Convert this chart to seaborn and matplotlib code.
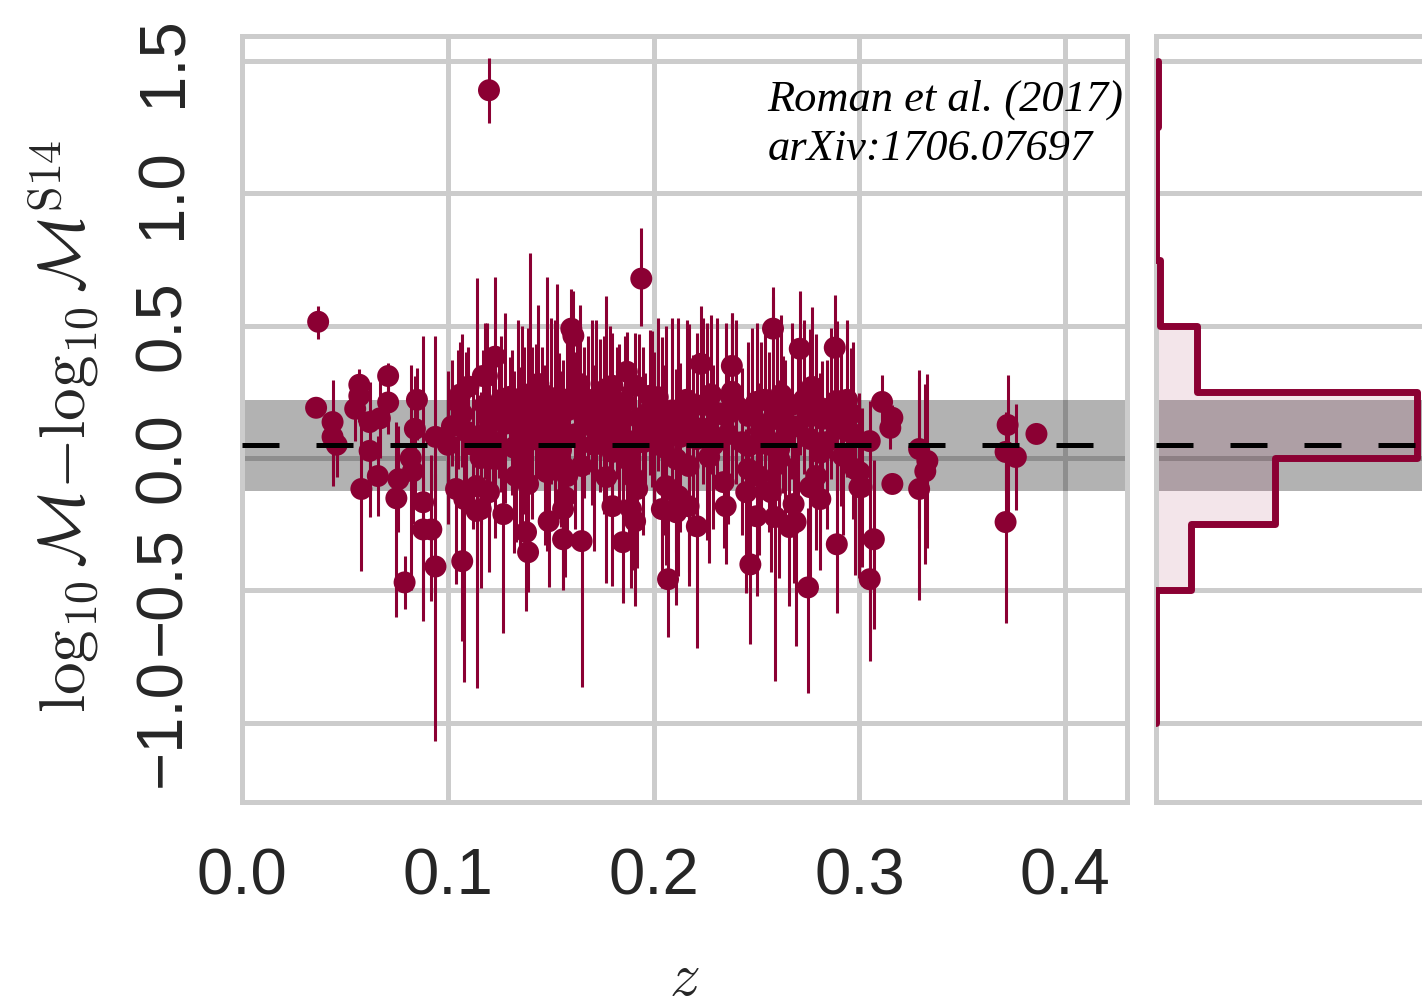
import numpy as np
import matplotlib
matplotlib.use("Agg")
import matplotlib.pyplot as plt
import seaborn as sns

# ---------------- data ----------------
z = [
    0.037, 0.036, 0.044, 0.044, 0.046, 0.057, 0.057, 0.055, 0.062, 0.062,
    0.058, 0.066, 0.071, 0.071, 0.082, 0.075, 0.076, 0.083, 0.085, 0.079,
    0.088, 0.088, 0.092, 0.094, 0.094, 0.102, 0.107, 0.106, 0.110, 0.117,
    0.104, 0.108, 0.107, 0.114, 0.114, 0.116, 0.120, 0.123, 0.119, 0.130,
    0.125, 0.131, 0.120, 0.119, 0.136, 0.146, 0.153, 0.154, 0.144, 0.148,
    0.140, 0.172, 0.177, 0.180, 0.187, 0.191, 0.198, 0.204, 0.206, 0.196,
    0.170, 0.182, 0.177, 0.185, 0.123, 0.135, 0.148, 0.156, 0.165, 0.133,
    0.139, 0.148, 0.158, 0.177, 0.190, 0.192, 0.120, 0.116, 0.127, 0.138,
    0.139, 0.149, 0.156, 0.157, 0.156, 0.165, 0.180, 0.185, 0.189, 0.191,
    0.204, 0.207, 0.206, 0.180, 0.187, 0.194, 0.160, 0.161, 0.164, 0.159,
    0.258, 0.271, 0.288, 0.223, 0.238, 0.238, 0.238, 0.277, 0.289, 0.296,
    0.235, 0.246, 0.250, 0.258, 0.263, 0.276, 0.282, 0.289, 0.226, 0.212,
    0.217, 0.221, 0.227, 0.246, 0.261, 0.276, 0.292, 0.211, 0.217, 0.246,
    0.251, 0.261, 0.279, 0.298, 0.300, 0.234, 0.245, 0.257, 0.276, 0.281,
    0.212, 0.211, 0.217, 0.221, 0.235, 0.250, 0.259, 0.247, 0.268, 0.266,
    0.269, 0.289, 0.275, 0.305, 0.311, 0.316, 0.315, 0.305, 0.300, 0.301,
    0.316, 0.307, 0.329, 0.333, 0.329, 0.332, 0.372, 0.371, 0.376, 0.371,
    0.386, 0.105, 0.112, 0.118, 0.122, 0.126, 0.128, 0.132, 0.134, 0.137,
    0.141, 0.143, 0.147, 0.150, 0.152, 0.155, 0.158, 0.162, 0.166, 0.168,
    0.171, 0.174, 0.176, 0.179, 0.183, 0.186, 0.188, 0.193, 0.195, 0.199,
    0.202, 0.205, 0.209, 0.213, 0.216, 0.219, 0.224, 0.229, 0.231, 0.236,
    0.240, 0.243, 0.248, 0.252, 0.254, 0.256, 0.260, 0.264, 0.267, 0.270,
    0.273, 0.279, 0.284, 0.286, 0.291, 0.294, 0.297, 0.109, 0.100, 0.139,
    0.163, 0.200, 0.228, 0.262, 0.281, 0.067, 0.084,
]

dlogm = [
    0.515, 0.19, 0.136, 0.08, 0.05, 0.277, 0.235, 0.186, 0.136, 0.027,
    -0.117, -0.068, 0.31, 0.21, 0.0, -0.152, -0.08, -0.05, 0.22, -0.47,
    -0.167, -0.27, -0.27, 0.08, -0.41, 0.12, 0.167, 0.24, 0.27, 0.31,
    -0.117, -0.155, -0.39, -0.2, -0.106, 0.0, 1.39, 0.383, 0.31, 0.231,
    0.174, 0.159, 0.148, 0.098, 0.098, 0.121, 0.159, 0.098, 0.28, 0.235,
    0.223, 0.223, 0.261, 0.273, 0.326, 0.273, 0.235, 0.159, 0.098, 0.121,
    0.121, 0.121, 0.072, 0.072, -0.004, 0.045, -0.004, -0.03, -0.03, -0.068,
    -0.098, -0.053, -0.068, -0.072, -0.072, -0.117, -0.129, -0.193, -0.212, -0.28,
    -0.356, -0.239, -0.307, -0.148, -0.193, -0.314, -0.182, -0.318, -0.193, -0.239,
    -0.193, -0.458, -0.106, 0.023, -0.004, 0.678, 0.489, 0.462, 0.28, 0.223,
    0.489, 0.413, 0.417, 0.356, 0.348, 0.250, 0.223, 0.269, 0.216, 0.167,
    0.159, 0.159, 0.212, 0.148, 0.136, 0.159, 0.148, 0.110, 0.110, 0.148,
    0.186, 0.072, 0.004, 0.045, 0.034, 0.072, 0.008, -0.004, -0.03, -0.042,
    -0.068, -0.004, -0.068, -0.042, -0.110, -0.091, -0.129, -0.129, -0.110, -0.155,
    -0.144, -0.205, -0.182, -0.258, -0.182, -0.220, -0.223, -0.402, -0.174, -0.261,
    -0.242, -0.326, -0.489, -0.458, 0.212, 0.152, 0.114, 0.064, -0.053, -0.110,
    -0.098, -0.307, 0.034, -0.011, -0.117, -0.05, 0.125, 0.023, 0.004, -0.242,
    0.091, 0.21, 0.05, 0.2, 0.06, 0.22, 0.13, 0.04, 0.19, 0.15,
    0.07, 0.18, 0.05, 0.2, 0.12, 0.03, 0.18, 0.09, 0.16, 0.22,
    0.05, 0.17, 0.11, 0.2, 0.16, 0.21, 0.03, 0.15, 0.06, 0.19,
    0.23, 0.04, 0.18, 0.08, 0.22, 0.12, 0.2, 0.05, 0.17, 0.09,
    0.2, 0.06, 0.19, 0.1, 0.22, 0.05, 0.18, 0.08, 0.2, 0.12,
    0.22, 0.2, 0.06, 0.19, 0.13, 0.22, 0.09, 0.1, 0.05, 0.24,
    0.24, 0.1, 0.24, 0.24, 0.02, 0.15, 0.11,
]

err_lo = [
    0.065, 0.03, 0.24, 0.15, 0.12, 0.06, 0.10, 0.12, 0.20, 0.25,
    0.31, 0.15, 0.05, 0.12, 0.50, 0.45, 0.20, 0.20, 0.15, 0.10,
    0.45, 0.30, 0.27, 0.30, 0.66, 0.15, 0.20, 0.15, 0.20, 0.10,
    0.36, 0.69, 0.30, 0.67, 0.30, 0.25, 0.125, 0.20, 0.15, 0.20,
    0.25, 0.30, 0.35, 0.30, 0.35, 0.20, 0.20, 0.25, 0.15, 0.20,
    0.30, 0.30, 0.20, 0.20, 0.20, 0.25, 0.30, 0.25, 0.30, 0.25,
    0.30, 0.20, 0.30, 0.35, 0.30, 0.40, 0.30, 0.35, 0.30, 0.25,
    0.30, 0.30, 0.25, 0.40, 0.35, 0.30, 0.30, 0.30, 0.45, 0.30,
    0.15, 0.25, 0.19, 0.30, 0.30, 0.55, 0.30, 0.23, 0.30, 0.32,
    0.30, 0.22, 0.30, 0.30, 0.25, 0.18, 0.25, 0.20, 0.30, 0.25,
    0.30, 0.40, 0.30, 0.30, 0.25, 0.30, 0.30, 0.30, 0.30, 0.20,
    0.28, 0.33, 0.22, 0.40, 0.27, 0.35, 0.30, 0.25, 0.42, 0.30,
    0.30, 0.30, 0.40, 0.40, 0.35, 0.35, 0.30, 0.35, 0.40, 0.35,
    0.30, 0.45, 0.28, 0.40, 0.33, 0.25, 0.38, 0.30, 0.35, 0.27,
    0.30, 0.35, 0.30, 0.46, 0.22, 0.30, 0.62, 0.30, 0.30, 0.30,
    0.47, 0.26, 0.40, 0.20, 0.10, 0.05, 0.08, 0.83, 0.40, 0.30,
    0.03, 0.34, 0.30, 0.33, 0.42, 0.35, 0.35, 0.15, 0.20, 0.38,
    0.0, 0.25, 0.32, 0.28, 0.22, 0.35, 0.30, 0.40, 0.24, 0.36,
    0.30, 0.27, 0.38, 0.30, 0.33, 0.29, 0.25, 0.36, 0.31, 0.28,
    0.40, 0.30, 0.32, 0.27, 0.34, 0.30, 0.37, 0.29, 0.35, 0.30,
    0.28, 0.33, 0.30, 0.36, 0.26, 0.35, 0.30, 0.32, 0.28, 0.34,
    0.30, 0.35, 0.27, 0.31, 0.29, 0.33, 0.30, 0.36, 0.28, 0.35,
    0.28, 0.30, 0.33, 0.27, 0.31, 0.29, 0.32, 0.30, 0.30, 0.30,
    0.25, 0.30, 0.30, 0.30, 0.30, 0.15, 0.30,
]

err_hi = [
    0.06, 0.03, 0.16, 0.10, 0.08, 0.06, 0.08, 0.10, 0.15, 0.05,
    0.39, 0.15, 0.05, 0.12, 0.35, 0.29, 0.20, 0.15, 0.12, 0.10,
    0.63, 0.20, 0.28, 0.38, 0.35, 0.25, 0.30, 0.20, 0.15, 0.10,
    0.20, 0.30, 0.25, 0.88, 0.20, 0.25, 0.12, 0.30, 0.20, 0.15,
    0.20, 0.25, 0.25, 0.30, 0.40, 0.30, 0.50, 0.30, 0.30, 0.45,
    0.55, 0.30, 0.35, 0.20, 0.15, 0.20, 0.25, 0.30, 0.40, 0.20,
    0.40, 0.30, 0.30, 0.20, 0.25, 0.30, 0.30, 0.40, 0.30, 0.30,
    0.35, 0.25, 0.20, 0.30, 0.30, 0.25, 0.25, 0.30, 0.40, 0.30,
    0.20, 0.30, 0.20, 0.30, 0.30, 0.40, 0.30, 0.30, 0.30, 0.30,
    0.30, 0.30, 0.30, 0.30, 0.25, 0.19, 0.15, 0.17, 0.30, 0.30,
    0.12, 0.22, 0.20, 0.22, 0.20, 0.30, 0.30, 0.30, 0.30, 0.25,
    0.35, 0.28, 0.30, 0.50, 0.25, 0.33, 0.22, 0.30, 0.40, 0.38,
    0.32, 0.40, 0.28, 0.35, 0.26, 0.30, 0.22, 0.34, 0.27, 0.30,
    0.35, 0.28, 0.32, 0.26, 0.30, 0.36, 0.24, 0.30, 0.30, 0.33,
    0.30, 0.25, 0.35, 0.30, 0.28, 0.32, 0.30, 0.27, 0.30, 0.26,
    0.30, 0.40, 0.30, 0.20, 0.10, 0.05, 0.10, 0.15, 0.30, 0.30,
    0.03, 0.30, 0.30, 0.33, 0.42, 0.33, 0.19, 0.15, 0.20, 0.25,
    0.0, 0.20, 0.26, 0.31, 0.34, 0.24, 0.42, 0.29, 0.33, 0.27,
    0.35, 0.25, 0.30, 0.33, 0.40, 0.30, 0.28, 0.31, 0.26, 0.24,
    0.30, 0.28, 0.35, 0.30, 0.27, 0.25, 0.30, 0.32, 0.36, 0.29,
    0.30, 0.31, 0.35, 0.28, 0.30, 0.27, 0.33, 0.30, 0.36, 0.29,
    0.32, 0.28, 0.30, 0.34, 0.26, 0.35, 0.30, 0.29, 0.31, 0.27,
    0.30, 0.27, 0.31, 0.30, 0.28, 0.30, 0.35, 0.30, 0.28, 0.25,
    0.25, 0.30, 0.30, 0.30, 0.30, 0.15, 0.20,
]

mean_offset = 0.048
scatter_sigma = 0.172
hist_bins = [-1.0, -0.75, -0.5, -0.25, 0.0, 0.25, 0.5, 0.75, 1.0, 1.25, 1.5]
x_ticks = [0.0, 0.1, 0.2, 0.3, 0.4]
y_ticks = [-1.0, -0.5, 0.0, 0.5, 1.0, 1.5]
annotation = "Roman et al. (2017)\narXiv:1706.07697"

# ---------------- style ----------------
CRIMSON = "#8B0033"
GRID = "#cccccc"
sns.set_theme(style="whitegrid")
plt.rcParams["font.family"] = ["Liberation Sans", "DejaVu Sans"]
plt.rcParams["mathtext.fontset"] = "cm"

W, H = 1422, 1008
fig = plt.figure(figsize=(W / 100, H / 100), dpi=100)
fig.patch.set_facecolor("white")


def px_rect(l, t, r, b):
    return [l / W, 1 - b / H, (r - l) / W, (b - t) / H]


ax = fig.add_axes(px_rect(242, 36, 1127, 802))
axh = fig.add_axes(px_rect(1156, 36, 1480, 802))

for a in (ax, axh):
    a.set_facecolor("white")
    a.set_axisbelow(True)
    a.grid(True, color=GRID, linewidth=3.6)
    for s in a.spines.values():
        s.set_color(GRID)
        s.set_linewidth(3.6)
    a.axhspan(mean_offset - scatter_sigma, mean_offset + scatter_sigma,
              color="black", alpha=0.3, lw=0, zorder=1)
    a.axhline(mean_offset, color="black", lw=3.6, ls=(0, (7.4, 7.4)), zorder=6)

# ---------------- main scatter ----------------
ax.errorbar(z, dlogm, yerr=[err_lo, err_hi], fmt="none", ecolor=CRIMSON,
            elinewidth=2.2, capsize=0, zorder=3)
sns.scatterplot(x=z, y=dlogm, color=CRIMSON, s=250, edgecolor="none",
                linewidth=0, ax=ax, zorder=4)

ax.set_xlim(0.0, 0.43)
ax.set_ylim(-1.3, 1.595)
ax.set_xticks(x_ticks)
ax.set_yticks(y_ticks)
ax.tick_params(axis="both", length=0, labelsize=47, labelcolor="#262626")
ax.tick_params(axis="x", pad=33)
ax.tick_params(axis="y", pad=35)
for lab in ax.get_yticklabels():
    lab.set_rotation(90)
    lab.set_va("center")

ax.set_xlabel(r"$z$", fontsize=44)
ax.xaxis.set_label_coords(0.5, -0.195)
ax.set_ylabel(r"$\log_{10}\mathcal{M}{-}\log_{10}\mathcal{M}^{\mathrm{S14}}$", fontsize=47)
ax.yaxis.set_label_coords(-0.158, 0.49)

ax.text(0.594, 0.943, annotation, transform=ax.transAxes, ha="left", va="top",
        fontsize=32, fontstyle="italic", family=["Liberation Serif", "DejaVu Serif"],
        linespacing=1.3, color="black", zorder=7)

# ---------------- side histogram ----------------
sns.histplot(y=dlogm, bins=hist_bins, element="step", fill=True, color=CRIMSON,
             alpha=0.1, linewidth=0, ax=axh, zorder=2)
sns.histplot(y=dlogm, bins=hist_bins, element="step", fill=False, color=CRIMSON,
             linewidth=5.0, ax=axh, zorder=3)
for line in axh.get_lines():
    if line.get_color() == CRIMSON or line.get_linestyle() == "-":
        pass
counts, _ = np.histogram(dlogm, bins=hist_bins)
axh.set_xlim(0, counts.max() * (1480 - 1156) / (1417 - 1156))
axh.set_ylim(-1.3, 1.595)
axh.set_xticks([])
axh.set_yticks(y_ticks)
axh.tick_params(axis="y", length=0, labelleft=False)
axh.set_xlabel("")
axh.set_ylabel("")

fig.savefig("out.png", dpi=100, facecolor="white")
